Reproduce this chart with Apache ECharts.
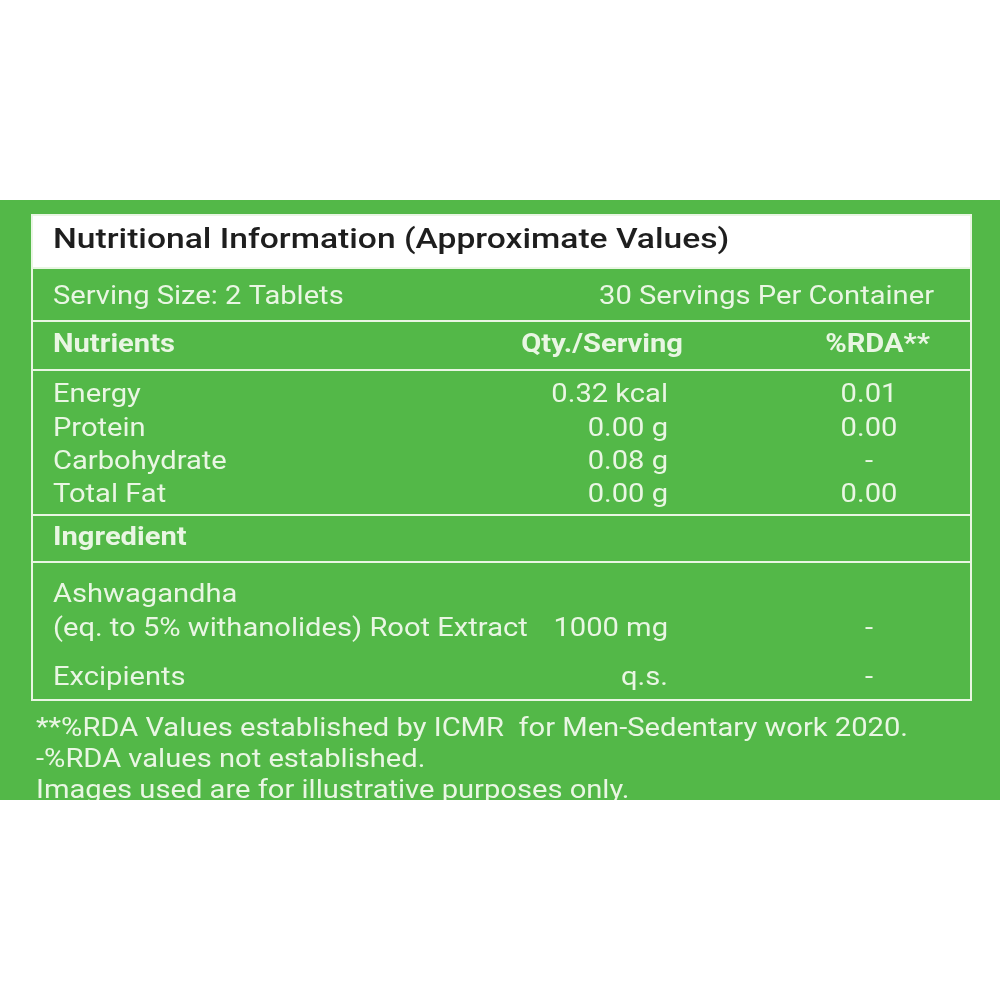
<!DOCTYPE html>
<html><head><meta charset="utf-8">
<script src="https://cdn.jsdelivr.net/npm/echarts@6/dist/echarts.min.js"></script>
<style>html,body{margin:0;padding:0;background:#fff}#c{width:1000px;height:1000px}</style>
</head><body><div id="c"></div>
<script>
var title = 'Nutritional Information (Approximate Values)';
var servingLeft = 'Serving Size: 2 Tablets';
var servingRight = '30 Servings Per Container';
var headers = ['Nutrients', 'Qty./Serving', '%RDA**'];
var nutrients = ['Energy', 'Protein', 'Carbohydrate', 'Total Fat'];
var nutrientQty = ['0.32 kcal', '0.00 g', '0.08 g', '0.00 g'];
var nutrientRda = ['0.01', '0.00', '-', '0.00'];
var ingredientHeader = 'Ingredient';
var ingredients = [['Ashwagandha', '(eq. to 5% withanolides) Root Extract'], ['Excipients']];
var ingredientQty = ['1000 mg', 'q.s.'];
var ingredientRda = ['-', '-'];
var footnotes = ['**%RDA Values established by ICMR  for Men-Sedentary work 2020.', '-%RDA values not established.', 'Images used are for illustrative purposes only.'];

var GREEN = '#53b848', LIGHT = '#e9f6e3', FONT = 'Roboto';
var els = [];
function txt(s, x, y, align, size, weight, color, sx) {
  els.push({type: 'text', x: x, y: y + 2, scaleX: sx || 1.165, style: {text: s, x: 0, y: 0, align: align, verticalAlign: 'middle',
    fontFamily: FONT, fontSize: size, fontWeight: weight || 'normal', fill: color || LIGHT}});
}
function hline(y) {
  els.push({type: 'line', shape: {x1: 32, y1: y, x2: 971, y2: y}, style: {stroke: LIGHT, lineWidth: 2}});
}
els.push({type: 'rect', shape: {x: 0, y: 200, width: 1000, height: 600}, style: {fill: GREEN}});
els.push({type: 'rect', shape: {x: 32, y: 215, width: 939, height: 53}, style: {fill: '#ffffff'}});
els.push({type: 'rect', shape: {x: 32, y: 215, width: 939, height: 485}, style: {fill: 'none', stroke: LIGHT, lineWidth: 2}});
[268, 321, 370, 515, 562].forEach(hline);

var LX = 53, QX = 668, RX = 869, FS = 25;
txt(title, LX, 239, 'left', 28, 500, '#1e1e1e', 1.2);
txt(servingLeft, LX, 296, 'left', FS);
txt(servingRight, 934, 296, 'right', FS);
txt(headers[0], LX, 344, 'left', FS, 'bold');
txt(headers[1], 683, 344, 'right', FS, 'bold');
txt(headers[2], 930, 344, 'right', FS, 'bold');
var ny = [394, 428, 461, 494];
nutrients.forEach(function (n, i) {
  txt(n, LX, ny[i], 'left', FS);
  txt(nutrientQty[i], QX, ny[i], 'right', FS);
  txt(nutrientRda[i], RX, ny[i], 'center', FS);
});
txt(ingredientHeader, LX, 537, 'left', FS, 'bold');
var iy = [[594, 628], [677]];
ingredients.forEach(function (lines, i) {
  lines.forEach(function (l, j) { txt(l, LX, iy[i][j], 'left', FS); });
  var yy = iy[i][iy[i].length - 1];
  txt(ingredientQty[i], QX, yy, 'right', FS);
  txt(ingredientRda[i], RX, yy, 'center', FS);
});
var fy = [728, 759, 790];
footnotes.forEach(function (f, i) { txt(f, 36, fy[i], 'left', FS); });
els.push({type: 'rect', shape: {x: 0, y: 800, width: 1000, height: 200}, style: {fill: '#ffffff'}});

var chart = echarts.init(document.getElementById('c'));
chart.setOption({animation: false, graphic: {elements: els}});
</script></body></html>
